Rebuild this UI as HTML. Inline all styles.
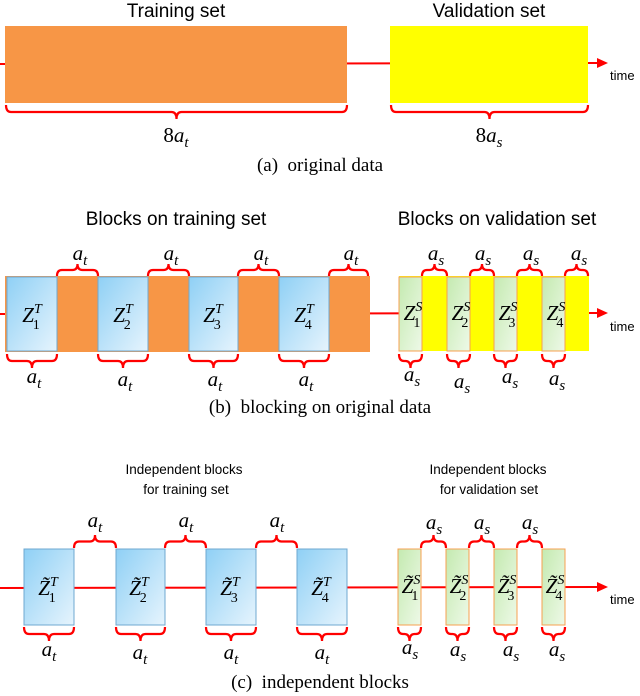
<!DOCTYPE html>
<html><head><meta charset="utf-8">
<style>
html,body{margin:0;padding:0;background:#fff;}
svg{display:block;}
.ti{font-family:"Liberation Sans","DejaVu Sans",sans-serif;font-size:19px;fill:#000;text-anchor:middle;}
.ts{font-family:"Liberation Sans","DejaVu Sans",sans-serif;font-size:13.5px;fill:#000;text-anchor:middle;}
.m{font-family:"Liberation Serif","DejaVu Serif",serif;font-style:italic;font-size:21px;fill:#000;text-anchor:middle;}
.cap{font-family:"Liberation Serif","DejaVu Serif",serif;font-size:19px;fill:#000;text-anchor:middle;}
.tm{font-family:"Liberation Sans",sans-serif;font-size:13px;fill:#000;}
</style></head>
<body>
<svg id="s" width="640" height="696" viewBox="0 0 640 696" xmlns="http://www.w3.org/2000/svg">
<defs>
<linearGradient id="bl" x1="0" y1="0" x2="1" y2="1">
<stop offset="0" stop-color="#8fd0f5"/><stop offset="1" stop-color="#e6f4fd"/></linearGradient>
<linearGradient id="gr" x1="0" y1="0" x2="1" y2="1">
<stop offset="0" stop-color="#c4eab0"/><stop offset="1" stop-color="#eef9e8"/></linearGradient>
</defs>
<!-- Panel a -->
<text class="ti" x="176" y="17">Training set</text>
<text class="ti" x="489" y="17">Validation set</text>
<line x1="0" y1="64" x2="598" y2="63" stroke="#f00" stroke-width="2"/>
<polygon points="608,63 597,58 597,68" fill="#f00"/>
<rect x="5" y="26" width="342" height="77" fill="#f79646"/>
<rect x="390" y="26" width="198" height="77" fill="#ffff00"/>
<text class="tm" x="610" y="80">time</text>
<text class="m" x="176" y="142"><tspan font-style="normal">8</tspan>a<tspan font-size="15" dy="5">t</tspan></text>
<text class="m" x="489" y="142"><tspan font-style="normal">8</tspan>a<tspan font-size="15" dy="5">s</tspan></text>
<text class="cap" x="320" y="171">(a)&#160;&#160;original data</text>

<!-- Panel b -->
<text class="ti" x="176" y="225">Blocks on training set</text>
<text class="ti" x="497" y="225">Blocks on validation set</text>
<line x1="0" y1="314" x2="598" y2="313" stroke="#f00" stroke-width="2"/>
<polygon points="608,313 597,308 597,318" fill="#f00"/>
<rect x="5" y="276" width="365" height="76" fill="#f79646"/>
<rect x="7" y="277" width="50" height="74" fill="url(#bl)" stroke="#6fa8d0" stroke-width="1"/>
<rect x="98" y="277" width="50" height="74" fill="url(#bl)" stroke="#6fa8d0" stroke-width="1"/>
<rect x="189" y="277" width="49" height="74" fill="url(#bl)" stroke="#6fa8d0" stroke-width="1"/>
<rect x="279" y="277" width="50" height="74" fill="url(#bl)" stroke="#6fa8d0" stroke-width="1"/>
<rect x="399" y="276" width="190" height="75" fill="#ffff00"/>
<rect x="399" y="277" width="23" height="74" fill="url(#gr)" stroke="#f7a050" stroke-width="1"/>
<rect x="447" y="277" width="23" height="74" fill="url(#gr)" stroke="#f7a050" stroke-width="1"/>
<rect x="494" y="277" width="23" height="74" fill="url(#gr)" stroke="#f7a050" stroke-width="1"/>
<rect x="542" y="277" width="23" height="74" fill="url(#gr)" stroke="#f7a050" stroke-width="1"/>
<text class="tm" x="610" y="331">time</text>
<text class="m" x="32" y="322">Z<tspan font-size="14" dy="-9">T</tspan><tspan font-size="14" dx="-9" dy="16" font-style="normal">1</tspan></text>
<text class="m" x="123" y="322">Z<tspan font-size="14" dy="-9">T</tspan><tspan font-size="14" dx="-9" dy="16" font-style="normal">2</tspan></text>
<text class="m" x="213" y="322">Z<tspan font-size="14" dy="-9">T</tspan><tspan font-size="14" dx="-9" dy="16" font-style="normal">3</tspan></text>
<text class="m" x="304" y="322">Z<tspan font-size="14" dy="-9">T</tspan><tspan font-size="14" dx="-9" dy="16" font-style="normal">4</tspan></text>
<text class="m" x="413" y="320">Z<tspan font-size="14" dy="-9">S</tspan><tspan font-size="14" dx="-9" dy="16" font-style="normal">1</tspan></text>
<text class="m" x="461" y="320">Z<tspan font-size="14" dy="-9">S</tspan><tspan font-size="14" dx="-9" dy="16" font-style="normal">2</tspan></text>
<text class="m" x="508" y="320">Z<tspan font-size="14" dy="-9">S</tspan><tspan font-size="14" dx="-9" dy="16" font-style="normal">3</tspan></text>
<text class="m" x="556" y="320">Z<tspan font-size="14" dy="-9">S</tspan><tspan font-size="14" dx="-9" dy="16" font-style="normal">4</tspan></text>
<!-- top labels b -->
<text class="m" x="80" y="260">a<tspan font-size="15" dy="5">t</tspan></text>
<text class="m" x="171" y="260">a<tspan font-size="15" dy="5">t</tspan></text>
<text class="m" x="261" y="260">a<tspan font-size="15" dy="5">t</tspan></text>
<text class="m" x="351" y="260">a<tspan font-size="15" dy="5">t</tspan></text>
<text class="m" x="436" y="260">a<tspan font-size="15" dy="5">s</tspan></text>
<text class="m" x="483" y="260">a<tspan font-size="15" dy="5">s</tspan></text>
<text class="m" x="531" y="260">a<tspan font-size="15" dy="5">s</tspan></text>
<text class="m" x="579" y="260">a<tspan font-size="15" dy="5">s</tspan></text>
<!-- bottom labels b -->
<text class="m" x="34" y="383">a<tspan font-size="15" dy="5">t</tspan></text>
<text class="m" x="125" y="386">a<tspan font-size="15" dy="5">t</tspan></text>
<text class="m" x="215" y="386">a<tspan font-size="15" dy="5">t</tspan></text>
<text class="m" x="306" y="386">a<tspan font-size="15" dy="5">t</tspan></text>
<text class="m" x="412" y="381">a<tspan font-size="15" dy="5">s</tspan></text>
<text class="m" x="462" y="388">a<tspan font-size="15" dy="5">s</tspan></text>
<text class="m" x="510" y="383">a<tspan font-size="15" dy="5">s</tspan></text>
<text class="m" x="557" y="385">a<tspan font-size="15" dy="5">s</tspan></text>
<text class="cap" x="320" y="413">(b)&#160;&#160;blocking on original data</text>

<!-- Panel c -->
<text class="ts" x="184" y="474">Independent blocks</text>
<text class="ts" x="186" y="494">for training set</text>
<text class="ts" x="488" y="474">Independent blocks</text>
<text class="ts" x="489" y="494">for validation set</text>
<line x1="0" y1="588" x2="598" y2="587" stroke="#f00" stroke-width="2"/>
<polygon points="608,587 597,582 597,592" fill="#f00"/>
<rect x="24" y="549" width="50" height="76" fill="url(#bl)" stroke="#6fa8d0" stroke-width="1"/>
<rect x="116" y="549" width="49" height="76" fill="url(#bl)" stroke="#6fa8d0" stroke-width="1"/>
<rect x="206" y="549" width="50" height="76" fill="url(#bl)" stroke="#6fa8d0" stroke-width="1"/>
<rect x="297" y="549" width="50" height="76" fill="url(#bl)" stroke="#6fa8d0" stroke-width="1"/>
<rect x="398" y="549" width="23" height="76" fill="url(#gr)" stroke="#f7a050" stroke-width="1"/>
<rect x="446" y="549" width="23" height="76" fill="url(#gr)" stroke="#f7a050" stroke-width="1"/>
<rect x="494" y="549" width="23" height="76" fill="url(#gr)" stroke="#f7a050" stroke-width="1"/>
<rect x="542" y="549" width="23" height="76" fill="url(#gr)" stroke="#f7a050" stroke-width="1"/>
<text class="tm" x="610" y="604">time</text>
<text class="m" x="48" y="595">Z&#771;<tspan font-size="14" dy="-9">T</tspan><tspan font-size="14" dx="-9" dy="16" font-style="normal">1</tspan></text>
<text class="m" x="139" y="595">Z&#771;<tspan font-size="14" dy="-9">T</tspan><tspan font-size="14" dx="-9" dy="16" font-style="normal">2</tspan></text>
<text class="m" x="230" y="595">Z&#771;<tspan font-size="14" dy="-9">T</tspan><tspan font-size="14" dx="-9" dy="16" font-style="normal">3</tspan></text>
<text class="m" x="321" y="595">Z&#771;<tspan font-size="14" dy="-9">T</tspan><tspan font-size="14" dx="-9" dy="16" font-style="normal">4</tspan></text>
<text class="m" x="411" y="593">Z&#771;<tspan font-size="14" dy="-9">S</tspan><tspan font-size="14" dx="-9" dy="16" font-style="normal">1</tspan></text>
<text class="m" x="459" y="593">Z&#771;<tspan font-size="14" dy="-9">S</tspan><tspan font-size="14" dx="-9" dy="16" font-style="normal">2</tspan></text>
<text class="m" x="507" y="593">Z&#771;<tspan font-size="14" dy="-9">S</tspan><tspan font-size="14" dx="-9" dy="16" font-style="normal">3</tspan></text>
<text class="m" x="555" y="593">Z&#771;<tspan font-size="14" dy="-9">S</tspan><tspan font-size="14" dx="-9" dy="16" font-style="normal">4</tspan></text>
<!-- top labels c -->
<text class="m" x="95" y="527">a<tspan font-size="15" dy="5">t</tspan></text>
<text class="m" x="186" y="527">a<tspan font-size="15" dy="5">t</tspan></text>
<text class="m" x="277" y="527">a<tspan font-size="15" dy="5">t</tspan></text>
<text class="m" x="434" y="529">a<tspan font-size="15" dy="5">s</tspan></text>
<text class="m" x="482" y="529">a<tspan font-size="15" dy="5">s</tspan></text>
<text class="m" x="530" y="529">a<tspan font-size="15" dy="5">s</tspan></text>
<!-- bottom labels c -->
<text class="m" x="49" y="656">a<tspan font-size="15" dy="5">t</tspan></text>
<text class="m" x="140" y="659">a<tspan font-size="15" dy="5">t</tspan></text>
<text class="m" x="231" y="659">a<tspan font-size="15" dy="5">t</tspan></text>
<text class="m" x="322" y="659">a<tspan font-size="15" dy="5">t</tspan></text>
<text class="m" x="410" y="654">a<tspan font-size="15" dy="5">s</tspan></text>
<text class="m" x="458" y="656">a<tspan font-size="15" dy="5">s</tspan></text>
<text class="m" x="511" y="656">a<tspan font-size="15" dy="5">s</tspan></text>
<text class="m" x="557" y="656">a<tspan font-size="15" dy="5">s</tspan></text>
<text class="cap" x="320" y="688">(c)&#160;&#160;independent blocks</text>
<g id="br" fill="none" stroke="#f00" stroke-width="2.2"></g>
</svg>
<script>
(function(){
var g=document.getElementById('br'),d='';
// h>0: tip up (top brace); h<0: tip down (bottom brace). y = ends
function b(x1,x2,y,h){
  var m=(x1+x2)/2,r=Math.min(5,(x2-x1)/4),hh=h/2;
  d+='M'+x1+' '+y+' q0 '+(-hh)+' '+r+' '+(-hh)+' L'+(m-r)+' '+(y-hh)+' q'+r+' 0 '+r+' '+(-hh)+
     ' q0 '+hh+' '+r+' '+hh+' L'+(x2-r)+' '+(y-hh)+' q'+r+' 0 '+r+' '+hh+' ';
}
// panel a
b(6,347,105,-14); b(391,588,105,-14);
// panel b top
b(57,98,276,12); b(148,189,276,12); b(238,279,276,12); b(329,368,276,12);
b(422,447,276,12); b(470,494,276,12); b(517,542,276,12); b(565,588,276,12);
// panel b bottom
b(7,57,354,-14); b(98,148,354,-14); b(189,238,354,-14); b(279,329,354,-14);
b(399,422,354,-14); b(447,470,354,-14); b(494,517,354,-14); b(542,565,354,-14);
// panel c top
b(74,116,548,13); b(165,206,548,13); b(256,297,548,13);
b(421,446,548,13); b(469,494,548,13); b(517,542,548,13);
// panel c bottom
b(24,74,627,-14); b(116,165,627,-14); b(206,256,627,-14); b(297,347,627,-14);
b(398,421,627,-14); b(446,469,627,-14); b(494,517,627,-14); b(542,565,627,-14);
var p=document.createElementNS('http://www.w3.org/2000/svg','path');
p.setAttribute('d',d);g.appendChild(p);
})();
</script>
</body></html>
